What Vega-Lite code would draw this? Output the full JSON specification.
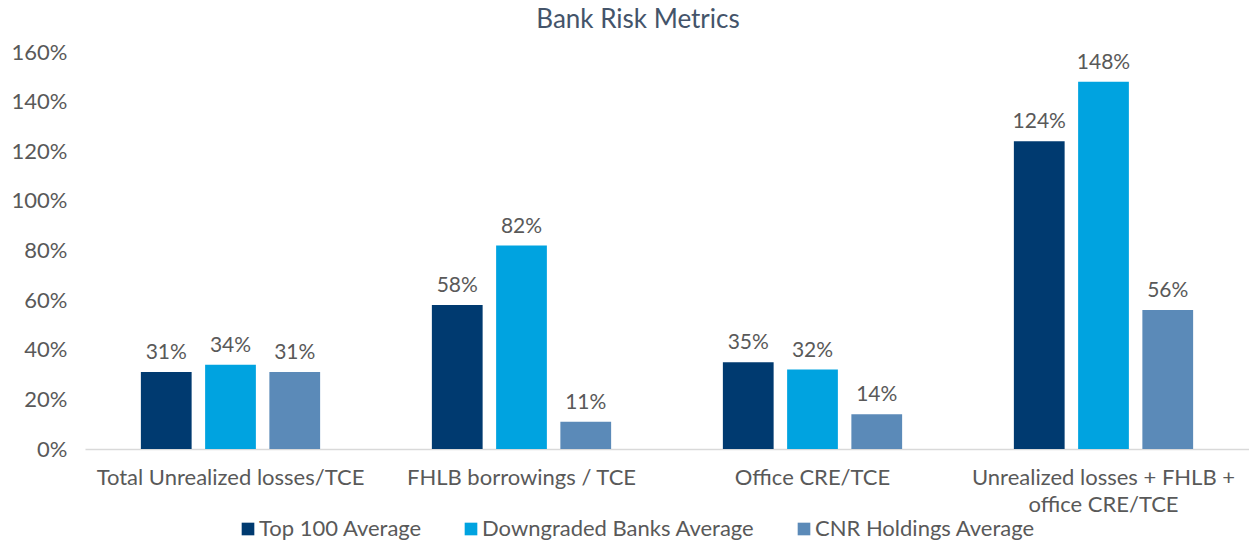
{
  "$schema": "https://vega.github.io/schema/vega-lite/v6.json",
  "width": 1164,
  "height": 397,
  "autosize": {"type": "none"},
  "padding": {"left": 85, "top": 52, "right": 0, "bottom": 94},
  "background": "white",
  "config": {
    "font": "Lato",
    "view": {"stroke": null}
  },
  "title": {
    "text": "Bank Risk Metrics",
    "fontSize": 26,
    "fontWeight": "normal",
    "color": "#44546A",
    "anchor": "middle",
    "frame": "group",
    "dx": -29,
    "offset": 8
  },
  "data": {
    "values": [
      {"metric": "Total Unrealized losses/TCE", "series": "Top 100 Average", "value": 0.31},
      {"metric": "Total Unrealized losses/TCE", "series": "Downgraded Banks Average", "value": 0.34},
      {"metric": "Total Unrealized losses/TCE", "series": "CNR Holdings Average", "value": 0.31},
      {"metric": "FHLB borrowings / TCE", "series": "Top 100 Average", "value": 0.58},
      {"metric": "FHLB borrowings / TCE", "series": "Downgraded Banks Average", "value": 0.82},
      {"metric": "FHLB borrowings / TCE", "series": "CNR Holdings Average", "value": 0.11},
      {"metric": "Office CRE/TCE", "series": "Top 100 Average", "value": 0.35},
      {"metric": "Office CRE/TCE", "series": "Downgraded Banks Average", "value": 0.32},
      {"metric": "Office CRE/TCE", "series": "CNR Holdings Average", "value": 0.14},
      {"metric": "Unrealized losses + FHLB + office CRE/TCE", "series": "Top 100 Average", "value": 1.24},
      {"metric": "Unrealized losses + FHLB + office CRE/TCE", "series": "Downgraded Banks Average", "value": 1.48},
      {"metric": "Unrealized losses + FHLB + office CRE/TCE", "series": "CNR Holdings Average", "value": 0.56}
    ]
  },
  "encoding": {
    "x": {
      "field": "metric",
      "type": "nominal",
      "sort": null,
      "scale": {"paddingInner": 0.384, "paddingOuter": 0.192},
      "axis": {
        "title": null,
        "labelAngle": 0,
        "labelFontSize": 22,
        "labelColor": "#595959",
        "labelPadding": 18,
        "labelLineHeight": 27,
        "labelLimit": 400,
        "ticks": false,
        "domainColor": "#D9D9D9",
        "domainWidth": 1.5,
        "labelExpr": "datum.value == 'Unrealized losses + FHLB + office CRE/TCE' ? ['Unrealized losses + FHLB +', 'office CRE/TCE'] : datum.value"
      }
    },
    "xOffset": {
      "field": "series",
      "type": "nominal",
      "sort": ["Top 100 Average", "Downgraded Banks Average", "CNR Holdings Average"],
      "scale": {"paddingInner": 0.21, "paddingOuter": 0}
    },
    "y": {
      "field": "value",
      "type": "quantitative",
      "scale": {"domain": [0, 1.6], "nice": false},
      "axis": {
        "title": null,
        "format": ".0%",
        "values": [0, 0.2, 0.4, 0.6, 0.8, 1.0, 1.2, 1.4, 1.6],
        "grid": false,
        "domain": false,
        "ticks": false,
        "labelFontSize": 22,
        "labelColor": "#595959",
        "labelPadding": 18
      }
    },
    "color": {
      "field": "series",
      "type": "nominal",
      "sort": ["Top 100 Average", "Downgraded Banks Average", "CNR Holdings Average"],
      "scale": {
        "domain": ["Top 100 Average", "Downgraded Banks Average", "CNR Holdings Average"],
        "range": ["#003A70", "#00A3E0", "#5B8AB8"]
      },
      "legend": {
        "title": null,
        "orient": "none",
        "direction": "horizontal",
        "legendX": 152,
        "legendY": 466,
        "symbolType": "square",
        "symbolSize": 160,
        "symbolStrokeWidth": 0,
        "labelFontSize": 22,
        "labelColor": "#595959",
        "labelOffset": 0,
        "labelLimit": 400,
        "columnPadding": 38
      }
    }
  },
  "layer": [
    {"mark": {"type": "bar"}},
    {
      "mark": {"type": "text", "baseline": "bottom", "dy": -9, "fontSize": 21},
      "encoding": {
        "text": {"field": "value", "type": "quantitative", "format": ".0%"},
        "color": {"value": "#595959"}
      }
    }
  ]
}
